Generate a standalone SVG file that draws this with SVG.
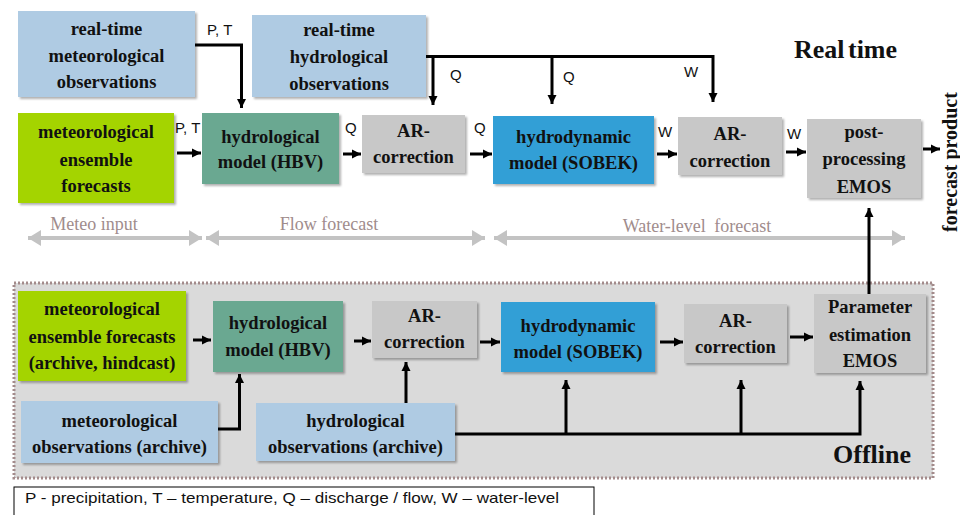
<svg xmlns="http://www.w3.org/2000/svg" width="960" height="515" viewBox="0 0 960 515">
<style>
.box{filter:url(#sh);}
.lb{fill:#afcbe3;}
.gr{fill:#a4d400;}
.tl{fill:#6aa891;}
.gy{fill:#c8c8c8;}
.bl{fill:#339fd6;}
.t{font-weight:bold;font-size:18.5px;fill:#111;text-anchor:middle;}
.s{font-size:15px;fill:#111;}
.g{font-size:18px;fill:#a08c8c;text-anchor:middle;}
.c{fill:none;stroke:#000;stroke-width:3;marker-end:url(#ah);}
.cn{fill:none;stroke:#000;stroke-width:3;}
.ga{fill:none;stroke:#c3c3c3;stroke-width:4;marker-start:url(#gh);marker-end:url(#gh);}
</style>
<defs>
<filter id="sh" x="-10%" y="-10%" width="130%" height="130%">
<feDropShadow dx="2" dy="2" stdDeviation="1.2" flood-color="#000" flood-opacity="0.3"/>
</filter>
<marker id="ah" markerUnits="userSpaceOnUse" markerWidth="10" markerHeight="10" refX="9" refY="5" orient="auto">
<path d="M0,0.5 L9,5 L0,9.5 z" fill="#000"/>
</marker>
<marker id="gh" markerUnits="userSpaceOnUse" markerWidth="14" markerHeight="16" refX="13" refY="8" orient="auto-start-reverse">
<path d="M0,0 L13,8 L0,16 z" fill="#c3c3c3"/>
</marker>
</defs>
<rect width="960" height="515" fill="#fff"/>

<g id="offline-area">
<rect x="14" y="283" width="919" height="195" fill="#dadada" stroke="#a38b8b" stroke-width="3" stroke-dasharray="2 2"/>
<text x="872" y="463" font-family="Liberation Serif, serif" font-weight="bold" font-size="26" text-anchor="middle" fill="#111">Offline</text>
</g>

<g id="realtime-label">
<text x="845.5" y="58" font-family="Liberation Serif, serif" font-weight="bold" font-size="26" text-anchor="middle" word-spacing="-3" fill="#111">Real time</text>
</g>

<g id="phase-arrows" font-family="Liberation Serif, serif">
<line class="ga" x1="28" y1="238" x2="202" y2="238"/>
<line class="ga" x1="206" y1="238" x2="485" y2="238"/>
<line class="ga" x1="494" y1="238" x2="905" y2="238"/>
<text class="g" x="94" y="230">Meteo input</text>
<text class="g" x="329" y="230">Flow forecast</text>
<text class="g" x="697" y="232" word-spacing="4">Water-level forecast</text>
</g>

<g id="connectors" font-family="Liberation Sans, Arial, sans-serif">
<path class="c" d="M195,45 H241.5 V108"/>
<path class="cn" d="M425,56.5 H713"/>
<path class="c" d="M433,56.5 V105"/>
<path class="c" d="M552,56.5 V104"/>
<path class="c" d="M713,55 V102"/>
<path class="c" d="M177,153 H201"/>
<path class="c" d="M343,154 H361"/>
<path class="c" d="M470,154 H492"/>
<path class="c" d="M657,154 H677"/>
<path class="c" d="M786,152 H806"/>
<path class="c" d="M923,149 H940"/>
<path class="c" d="M869,294 V208"/>
<path class="c" d="M193,340 H211"/>
<path class="c" d="M354,341 H371"/>
<path class="c" d="M480,342 H500"/>
<path class="c" d="M660,342 H683"/>
<path class="c" d="M790,337 H813"/>
<path class="c" d="M218,429 H239.5 V374"/>
<path class="c" d="M406,403 V362"/>
<path class="c" d="M455,434 H860 V381"/>
<path class="c" d="M566,434 V380"/>
<path class="c" d="M741,434 V380"/>
<text class="s" x="207" y="35">P, T</text>
<text class="s" x="175" y="133">P, T</text>
<text class="s" x="345" y="133">Q</text>
<text class="s" x="474" y="133">Q</text>
<text class="s" x="658" y="137">W</text>
<text class="s" x="787" y="139">W</text>
<text class="s" x="450" y="80">Q</text>
<text class="s" x="563" y="82">Q</text>
<text class="s" x="684" y="77">W</text>
</g>

<g font-family="Liberation Serif, 'Times New Roman', serif">
<g id="rt-met-obs">
<rect class="box lb" x="18" y="11" width="177" height="86"/>
<text class="t" x="106.5" y="35">real-time</text>
<text class="t" x="106.5" y="62">meteorological</text>
<text class="t" x="106.5" y="88">observations</text>
</g>
<g id="rt-hyd-obs">
<rect class="box lb" x="252" y="15" width="174" height="82"/>
<text class="t" x="339" y="36">real-time</text>
<text class="t" x="339" y="63">hydrological</text>
<text class="t" x="339" y="90">observations</text>
</g>
<g id="met-ens">
<rect class="box gr" x="18" y="113" width="156" height="90"/>
<text class="t" x="96" y="138">meteorological</text>
<text class="t" x="96" y="166">ensemble</text>
<text class="t" x="96" y="192">forecasts</text>
</g>
<g id="hbv">
<rect class="box tl" x="202" y="113" width="137" height="71"/>
<text class="t" x="270.5" y="143">hydrological</text>
<text class="t" x="270.5" y="168">model (HBV)</text>
</g>
<g id="ar1">
<rect class="box gy" x="362" y="115" width="103" height="58"/>
<text class="t" x="413.5" y="137">AR-</text>
<text class="t" x="413.5" y="163">correction</text>
</g>
<g id="sobek">
<rect class="box bl" x="493" y="116" width="161" height="68"/>
<text class="t" x="573.5" y="143">hydrodynamic</text>
<text class="t" x="573.5" y="169">model (SOBEK)</text>
</g>
<g id="ar2">
<rect class="box gy" x="678" y="117" width="104" height="58"/>
<text class="t" x="730" y="140">AR-</text>
<text class="t" x="730" y="167">correction</text>
</g>
<g id="post">
<rect class="box gy" x="807" y="119" width="114" height="79"/>
<text class="t" x="864" y="138">post-</text>
<text class="t" x="864" y="165">processing</text>
<text class="t" x="864" y="193">EMOS</text>
</g>
<g id="forecast-product">
<text x="0" y="0" transform="translate(957,162) rotate(-90)" font-weight="bold" font-size="20" text-anchor="middle" fill="#111">forecast product</text>
</g>

<g id="met-ens-arch">
<rect class="box gr" x="18" y="291" width="168" height="90"/>
<text class="t" x="102" y="315">meteorological</text>
<text class="t" x="102" y="343">ensemble forecasts</text>
<text class="t" x="102" y="369">(archive, hindcast)</text>
</g>
<g id="hbv-arch">
<rect class="box tl" x="213" y="301" width="130" height="71"/>
<text class="t" x="278" y="329">hydrological</text>
<text class="t" x="278" y="356">model (HBV)</text>
</g>
<g id="ar-arch1">
<rect class="box gy" x="372" y="301" width="105" height="57"/>
<text class="t" x="424.5" y="322">AR-</text>
<text class="t" x="424.5" y="348">correction</text>
</g>
<g id="sobek-arch">
<rect class="box bl" x="501" y="302" width="154" height="70"/>
<text class="t" x="578" y="332">hydrodynamic</text>
<text class="t" x="578" y="358">model (SOBEK)</text>
</g>
<g id="ar-arch2">
<rect class="box gy" x="684" y="304" width="103" height="59"/>
<text class="t" x="735.5" y="327">AR-</text>
<text class="t" x="735.5" y="353">correction</text>
</g>
<g id="param">
<rect class="box gy" x="814" y="294" width="112" height="79"/>
<text class="t" x="870" y="313">Parameter</text>
<text class="t" x="870" y="341">estimation</text>
<text class="t" x="870" y="367">EMOS</text>
</g>
<g id="met-obs-arch">
<rect class="box lb" x="21" y="401" width="197" height="62"/>
<text class="t" x="119.5" y="427">meteorological</text>
<text class="t" x="119.5" y="453">observations (archive)</text>
</g>
<g id="hyd-obs-arch">
<rect class="box lb" x="256" y="403" width="199" height="58"/>
<text class="t" x="355.5" y="427">hydrological</text>
<text class="t" x="355.5" y="453">observations (archive)</text>
</g>
</g>

<g id="legend" font-family="Liberation Sans, Arial, sans-serif">
<rect x="14" y="487" width="580" height="40" fill="#fff" stroke="#000" stroke-width="1"/>
<text class="s" x="25" y="503" font-size="14.5" textLength="534" lengthAdjust="spacingAndGlyphs">P - precipitation, T – temperature, Q – discharge / flow, W – water-level</text>
</g>
</svg>
